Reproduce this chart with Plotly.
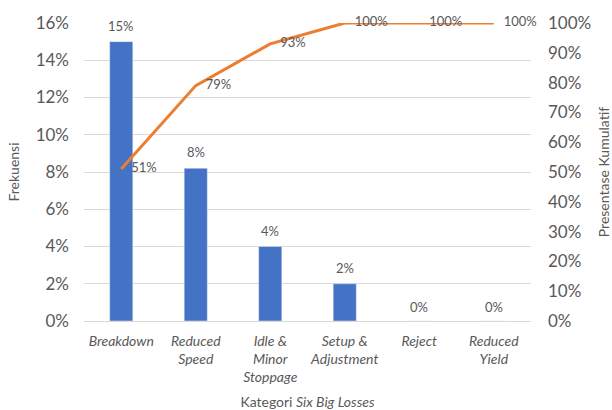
import plotly.graph_objects as go

categories = ["Breakdown", "Reduced<br>Speed", "Idle &<br>Minor<br>Stoppage", "Setup &<br>Adjustment", "Reject", "Reduced<br>Yield"]
frekuensi = [15, 8.2, 4, 2, 0, 0]
frek_labels = ["15%", "8%", "4%", "2%", "0%", "0%"]
kumulatif = [51, 79, 93, 100, 100, 100]
kum_labels = ["51%", "79%", "93%", "100%", "100%", "100%"]
left_ticks = [0, 2, 4, 6, 8, 10, 12, 14, 16]
right_ticks = [0, 10, 20, 30, 40, 50, 60, 70, 80, 90, 100]

FONT = "Lato"
GRAY = "#595959"

fig = go.Figure()
fig.add_trace(go.Bar(
    x=categories, y=frekuensi, marker=dict(color="#4472C4"), width=0.31,
    showlegend=False,
))
fig.add_trace(go.Scatter(
    x=categories, y=kumulatif, yaxis="y2", mode="lines+text",
    line=dict(color="#ED7D31", width=3),
    text=["   " + t for t in kum_labels], textposition="middle right", cliponaxis=False,
    textfont=dict(family=FONT, size=13, color=GRAY), showlegend=False,
))

for cat, val, lab in zip(categories, frekuensi, frek_labels):
    fig.add_annotation(
        x=cat, y=val, xref="x", yref="y", text=lab, showarrow=False,
        yanchor="bottom", yshift=6 if val > 0 else 4,
        font=dict(family=FONT, size=13, color=GRAY),
    )

fig.update_layout(
    width=612, height=410,
    margin=dict(l=84, r=81, t=23, b=89, autoexpand=False),
    paper_bgcolor="white", plot_bgcolor="white",
    font=dict(family=FONT, color=GRAY),
    bargap=0.69,
    xaxis=dict(
        tickfont=dict(family=FONT, size=14, color=GRAY),
        tickprefix="<i>", ticksuffix="</i>",
        showline=True, linecolor="#d9d9d9", ticks="", ticklabelstandoff=7,
        automargin=False,
        title=dict(text="Kategori <i>Six Big Losses</i>", font=dict(family=FONT, size=14, color=GRAY), standoff=14),
    ),
    yaxis=dict(
        range=[0, 16], tickvals=left_ticks, ticktext=[f"{v}%" for v in left_ticks],
        tickfont=dict(family=FONT, size=17, color=GRAY),
        gridcolor="#d9d9d9", gridwidth=1, zeroline=False, ticks="", ticklabelstandoff=14,
        automargin=False,
        title=dict(text="Frekuensi", font=dict(family=FONT, size=14, color=GRAY), standoff=12),
    ),
    yaxis2=dict(
        overlaying="y", side="right",
        range=[0, 100], tickvals=right_ticks, ticktext=[f"{v}%" for v in right_ticks],
        tickfont=dict(family=FONT, size=17, color=GRAY),
        showgrid=False, zeroline=False, ticks="", ticklabelstandoff=16,
        automargin=False,
        title=dict(text="Presentase Kumulatif", font=dict(family=FONT, size=14, color=GRAY), standoff=16),
    ),
)

fig.write_html("out.html")
